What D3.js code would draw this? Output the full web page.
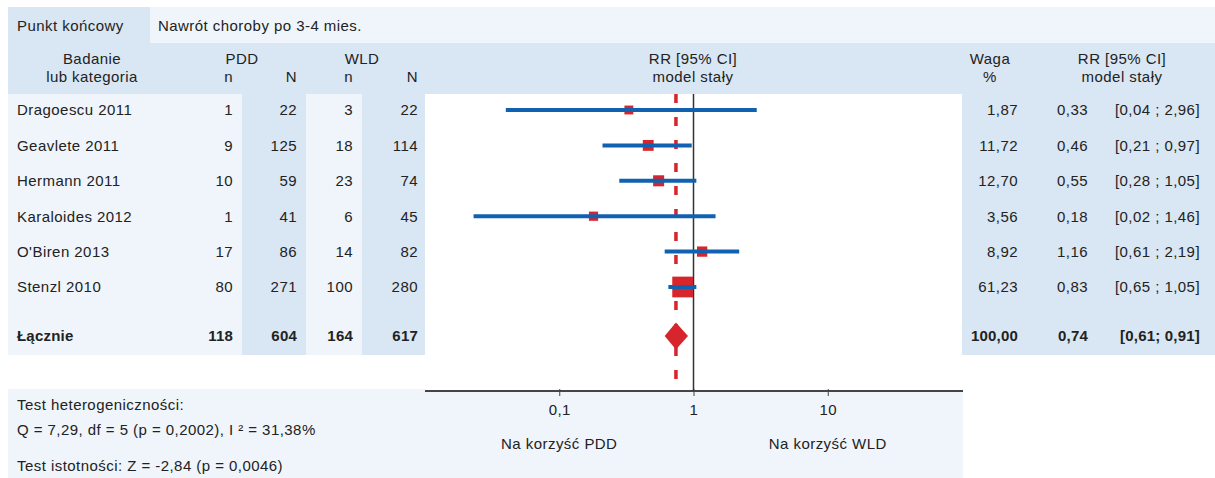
<!DOCTYPE html>
<html>
<head>
<meta charset="utf-8">
<script src="https://cdn.jsdelivr.net/npm/d3@7"></script>
<style>
  body { margin: 0; background: #fff; }
  text { font-family: "Liberation Sans", Arial, sans-serif; font-size: 15px; fill: #222; letter-spacing: 0.45px; }
  .bold { font-weight: bold; letter-spacing: 0.2px; }
</style>
</head>
<body>
<div id="forest"></div>
<script>
// data
var studies = ["Dragoescu 2011", "Geavlete 2011", "Hermann 2011", "Karaloides 2012", "O'Biren 2013", "Stenzl 2010"];
var pddEvents = [1, 9, 10, 1, 17, 80];
var pddTotal = [22, 125, 59, 41, 86, 271];
var wldEvents = [3, 18, 23, 6, 14, 100];
var wldTotal = [22, 114, 74, 45, 82, 280];
var weights = [1.87, 11.72, 12.70, 3.56, 8.92, 61.23];
var rr = [0.33, 0.46, 0.55, 0.18, 1.16, 0.83];
var ciLow = [0.04, 0.21, 0.28, 0.023, 0.61, 0.65];
var ciHigh = [2.96, 0.97, 1.05, 1.46, 2.19, 1.05];

var totalLabel = "Łącznie";
var totals = [118, 604, 164, 617];
var pooledWeight = 100;
var pooledRR = 0.74;
var pooledLow = 0.61;
var pooledHigh = 0.91;

var xTicks = [0.1, 1, 10];
var xTickLabels = ["0,1", "1", "10"];

var svgWidth = 1215;
var svgHeight = 478;

var light = "#eff5fb";
var dark = "#d9e6f3";
var blue = "#1062b1";
var red = "#d6252c";

var svg = d3.select("#forest")
  .append("svg")
  .attr("width", svgWidth)
  .attr("height", svgHeight);

function fmt(v) { return v.toFixed(2).replace(".", ","); }

// scales
var x = d3.scaleLog().domain([0.01, 100]).range([425, 962]);
var y = d3.scalePoint().domain(d3.range(studies.length)).range([110, 287]);
var yTotal = 336;
var boxSize = d3.scaleLinear().domain([0, 100]).range([8.5, 28.5]);

// backgrounds
function rect(x0, y0, x1, y1, fill) {
  svg.append("rect").attr("x", x0).attr("y", y0)
    .attr("width", x1 - x0).attr("height", y1 - y0).attr("fill", fill);
}
rect(8, 7, 150, 43, dark);
rect(150, 7, 1215, 43, light);
rect(8, 43, 1215, 94, dark);
rect(8, 94, 242, 355, light);
rect(242, 94, 306, 355, dark);
rect(306, 94, 362, 355, light);
rect(362, 94, 425, 355, dark);
rect(962, 94, 1215, 355, dark);
rect(8, 389, 963, 478, light);
rect(425, 94, 962, 391, "#fff");

function label(px, py, str, anchor, cls) {
  return svg.append("text")
    .attr("x", px).attr("y", py)
    .attr("dy", "0.36em")
    .attr("text-anchor", anchor || "start")
    .attr("class", cls || null)
    .text(str);
}

// top band + header
label(17, 26, "Punkt końcowy");
label(158, 26, "Nawrót choroby po 3-4 mies.");
label(92, 59, "Badanie", "middle");
label(92, 77, "lub kategoria", "middle");
label(242, 59, "PDD", "middle");
label(362, 59, "WLD", "middle");
var colRight = [233, 297, 353, 418];
["n", "N", "n", "N"].forEach(function(s, i) { label(colRight[i], 77, s, "end"); });
label(693, 59, "RR [95% CI]", "middle");
label(693, 77, "model stały", "middle");
label(990, 59, "Waga", "middle");
label(990, 77, "%", "middle");
label(1122, 59, "RR [95% CI]", "middle");
label(1122, 77, "model stały", "middle");

// study rows
studies.forEach(function(s, i) {
  var yy = y(i);
  label(17, yy, s);
  [pddEvents[i], pddTotal[i], wldEvents[i], wldTotal[i]].forEach(function(v, j) {
    label(colRight[j], yy, v, "end");
  });
  label(1018, yy, fmt(weights[i]), "end");
  label(1088, yy, fmt(rr[i]), "end");
  label(1200, yy, "[" + fmt(ciLow[i]) + " ; " + fmt(ciHigh[i]) + "]", "end");
});

// total row
label(17, yTotal, totalLabel, "start", "bold");
totals.forEach(function(v, j) { label(colRight[j], yTotal, v, "end", "bold"); });
label(1018, yTotal, fmt(pooledWeight), "end", "bold");
label(1088, yTotal, fmt(pooledRR), "end", "bold");
label(1200, yTotal, "[" + fmt(pooledLow) + "; " + fmt(pooledHigh) + "]", "end", "bold");

// axis
var axisY = 391;
var bottomAxis = d3.axisBottom(x).tickValues(xTicks).tickSize(5).tickFormat(function(d, i) { return xTickLabels[i]; });
var axisG = svg.append("g")
  .attr("transform", "translate(0," + axisY + ")")
  .call(bottomAxis);
axisG.select(".domain").attr("stroke", "#444").attr("stroke-width", 2).attr("d", "M425,0H963");
axisG.selectAll(".tick line").attr("stroke", "#444").attr("y1", -2);
axisG.selectAll(".tick text").attr("y", 19).attr("dy", "0.36em")
  .style("font-size", "15px").style("letter-spacing", "0.45px").attr("fill", "#222")
  .style("font-family", "Liberation Sans, Arial, sans-serif");

// reference line at 1
svg.append("line")
  .attr("x1", x(1)).attr("x2", x(1))
  .attr("y1", 94).attr("y2", axisY)
  .attr("stroke", "#333").attr("stroke-width", 1.5);

// pooled dashed line
svg.append("line")
  .attr("x1", x(pooledRR)).attr("x2", x(pooledRR))
  .attr("y1", 94).attr("y2", axisY - 2)
  .attr("stroke", red).attr("stroke-width", 3.5)
  .attr("stroke-dasharray", "9,14");

// CI lines and boxes
var rows = d3.range(studies.length);
svg.selectAll(".box").data(rows).enter().append("rect")
  .attr("class", "box")
  .attr("x", function(i) { return x(rr[i]) - boxSize(weights[i]) / 2; })
  .attr("y", function(i) { return y(i) - boxSize(weights[i]) / 2; })
  .attr("width", function(i) { return boxSize(weights[i]); })
  .attr("height", function(i) { return boxSize(weights[i]); })
  .attr("fill", red);

svg.selectAll(".ci").data(rows).enter().append("line")
  .attr("class", "ci")
  .attr("x1", function(i) { return x(ciLow[i]); })
  .attr("x2", function(i) { return x(ciHigh[i]); })
  .attr("y1", function(i) { return y(i); })
  .attr("y2", function(i) { return y(i); })
  .attr("stroke", blue).attr("stroke-width", 4);

// pooled diamond
svg.append("path")
  .attr("d", "M" + x(pooledLow) + "," + yTotal +
    "L" + x(pooledRR) + "," + (yTotal - 13.5) +
    "L" + x(pooledHigh) + "," + yTotal +
    "L" + x(pooledRR) + "," + (yTotal + 13.5) + "Z")
  .attr("fill", red);

// bottom notes
label(17, 405, "Test heterogeniczności:");
label(17, 430, "Q = 7,29, df = 5 (p = 0,2002), I ² = 31,38%");
label(17, 466, "Test istotności: Z = -2,84 (p = 0,0046)");
label(x(0.1), 444, "Na korzyść PDD", "middle");
label(x(10), 444, "Na korzyść WLD", "middle");
</script>
</body>
</html>
